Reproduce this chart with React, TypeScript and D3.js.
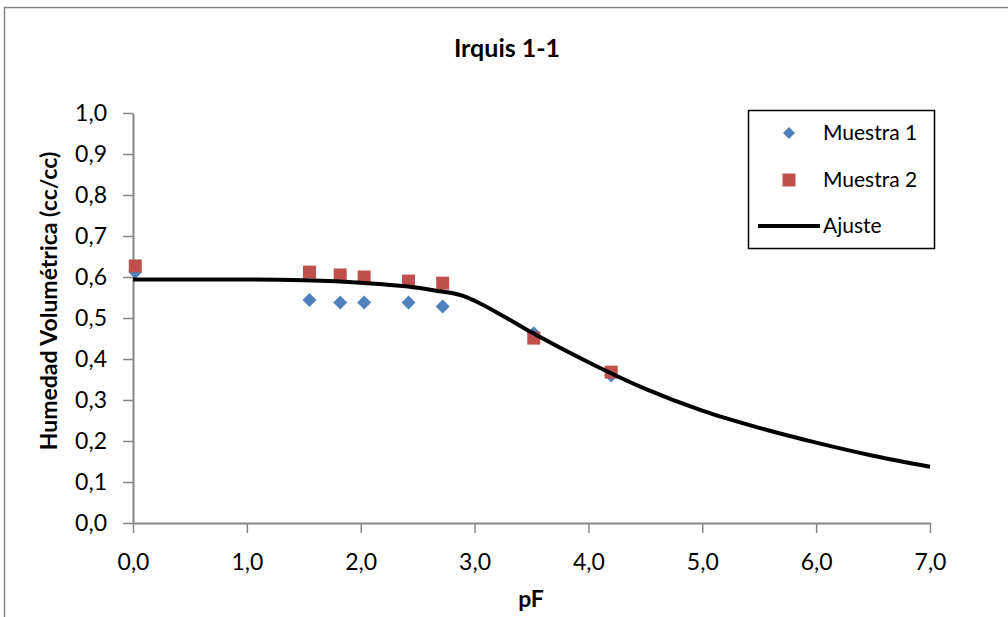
import React, { useEffect, useRef } from 'react';
import * as d3 from 'd3';

// measured points
const muestra1X = [0.02, 1.55, 1.82, 2.03, 2.42, 2.72, 3.52, 4.2];
const muestra1Y = [0.612, 0.544, 0.538, 0.538, 0.538, 0.528, 0.463, 0.36];
const muestra2X = [0.02, 1.55, 1.82, 2.03, 2.42, 2.72, 3.52, 4.2];
const muestra2Y = [0.627, 0.612, 0.605, 0.6, 0.59, 0.585, 0.451, 0.368];

// fitted curve
const ajusteX = [0, 1, 1.5, 2, 2.5, 2.7, 2.8, 2.9, 3, 3.25, 3.5, 4, 4.5, 5, 5.5, 6, 6.5, 7];
const ajusteY = [0.594, 0.594, 0.592, 0.586, 0.574, 0.565, 0.561, 0.554, 0.542, 0.505, 0.465, 0.392, 0.327, 0.274, 0.232, 0.196, 0.164, 0.137];

const xTicks = [0, 1, 2, 3, 4, 5, 6, 7];
const yTicks = [0, 0.1, 0.2, 0.3, 0.4, 0.5, 0.6, 0.7, 0.8, 0.9, 1.0];

const FONT = 'Lato, "Open Sans", sans-serif';
const AXIS_GRAY = '#868686';
const BLUE = '#4F81BD';
const RED = '#C0504D';

export default function App() {
  const ref = useRef<SVGSVGElement>(null);

  useEffect(() => {
    document.body.style.margin = '0';
    const svg = d3.select(ref.current);
    svg.selectAll('*').remove();

    const width = 1008;
    const height = 617;

    const x = d3.scaleLinear().domain([0, 7]).range([133, 930]);
    const y = d3.scaleLinear().domain([0, 1]).range([523, 113]);
    const fmt = (d: number) => d3.format('.1f')(d).replace('.', ',');

    svg.append('rect').attr('width', width).attr('height', height).attr('fill', 'white');

    // outer chart frame (cut off at right/bottom)
    svg
      .append('path')
      .attr('d', 'M4.5,' + height + ' L4.5,7.5 L' + width + ',7.5')
      .attr('fill', 'none')
      .attr('stroke', AXIS_GRAY)
      .attr('stroke-width', 1.5);

    // title
    svg
      .append('text')
      .attr('x', 507)
      .attr('y', 57)
      .attr('text-anchor', 'middle')
      .style('font-family', FONT)
      .style('font-size', '25px')
      .style('font-weight', 'bold')
      .text('Irquis 1-1');

    // axes
    const xAxis = d3
      .axisBottom(x)
      .tickValues(xTicks)
      .tickSize(10)
      .tickPadding(21)
      .tickSizeOuter(0)
      .tickFormat((d) => fmt(+d));
    const yAxis = d3
      .axisLeft(y)
      .tickValues(yTicks)
      .tickSize(10)
      .tickPadding(16)
      .tickSizeOuter(0)
      .tickFormat((d) => fmt(+d));

    const gx = svg.append('g').attr('transform', 'translate(0,' + y(0) + ')').call(xAxis);
    const gy = svg.append('g').attr('transform', 'translate(' + x(0) + ',0)').call(yAxis);

    [gx, gy].forEach((g) => {
      g.select('.domain').attr('stroke', AXIS_GRAY).attr('stroke-width', 2);
      g.selectAll('.tick line').attr('stroke', AXIS_GRAY).attr('stroke-width', 1.5);
      g.selectAll('.tick text')
        .attr('fill', 'black')
        .style('font-family', FONT)
        .style('font-size', '23px');
    });

    // axis titles
    svg
      .append('text')
      .attr('x', 531)
      .attr('y', 607)
      .attr('text-anchor', 'middle')
      .style('font-family', FONT)
      .style('font-size', '23px')
      .style('font-weight', 'bold')
      .text('pF');

    svg
      .append('text')
      .attr('transform', 'translate(57,' + 301 + ') rotate(-90)')
      .attr('text-anchor', 'middle')
      .style('font-family', FONT)
      .style('font-size', '23px')
      .style('font-weight', 'bold')
      .text('Humedad Volumétrica  (cc/cc)');

    // series
    const m1 = muestra1X.map((d, i) => ({ x: d, y: muestra1Y[i] }));
    const m2 = muestra2X.map((d, i) => ({ x: d, y: muestra2Y[i] }));
    const fit = ajusteX.map((d, i) => ({ x: d, y: ajusteY[i] }));

    const diamond = 'M0,-7 L7,0 L0,7 L-7,0 Z';

    svg
      .selectAll()
      .data(m1)
      .enter()
      .append('path')
      .attr('class', 'm1')
      .attr('d', diamond)
      .attr('transform', (d) => 'translate(' + x(d.x) + ',' + y(d.y) + ')')
      .style('fill', BLUE);

    svg
      .selectAll()
      .data(m2)
      .enter()
      .append('rect')
      .attr('class', 'm2')
      .attr('x', (d) => x(d.x) - 6.5)
      .attr('y', (d) => y(d.y) - 6.5)
      .attr('width', 13)
      .attr('height', 13)
      .style('fill', RED);

    const line = d3
      .line<{ x: number; y: number }>()
      .x((d) => x(d.x))
      .y((d) => y(d.y))
      .curve(d3.curveMonotoneX);

    svg
      .append('path')
      .datum(fit)
      .attr('d', line)
      .style('fill', 'none')
      .style('stroke', 'black')
      .style('stroke-width', 4);

    // legend
    const lg = svg.append('g');
    lg.append('rect')
      .attr('x', 748.5)
      .attr('y', 110.5)
      .attr('width', 186)
      .attr('height', 138)
      .attr('fill', 'white')
      .attr('stroke', 'black')
      .attr('stroke-width', 1.5);

    lg.append('path')
      .attr('d', 'M0,-6 L6,0 L0,6 L-6,0 Z')
      .attr('transform', 'translate(789,133)')
      .style('fill', BLUE);
    lg.append('rect')
      .attr('x', 782.5)
      .attr('y', 173.5)
      .attr('width', 13)
      .attr('height', 13)
      .style('fill', RED);
    lg.append('line')
      .attr('x1', 758)
      .attr('x2', 820)
      .attr('y1', 226)
      .attr('y2', 226)
      .style('stroke', 'black')
      .style('stroke-width', 4);

    const labels = [
      { t: 'Muestra 1', yy: 133 },
      { t: 'Muestra 2', yy: 180 },
      { t: 'Ajuste', yy: 226 },
    ];
    lg.selectAll()
      .data(labels)
      .enter()
      .append('text')
      .attr('x', 823)
      .attr('y', (d) => d.yy)
      .attr('dy', '0.35em')
      .style('font-family', FONT)
      .style('font-size', '21px')
      .text((d) => d.t);
  }, []);

  return <svg ref={ref} width={1008} height={617} style={{ display: 'block' }}></svg>;
}
